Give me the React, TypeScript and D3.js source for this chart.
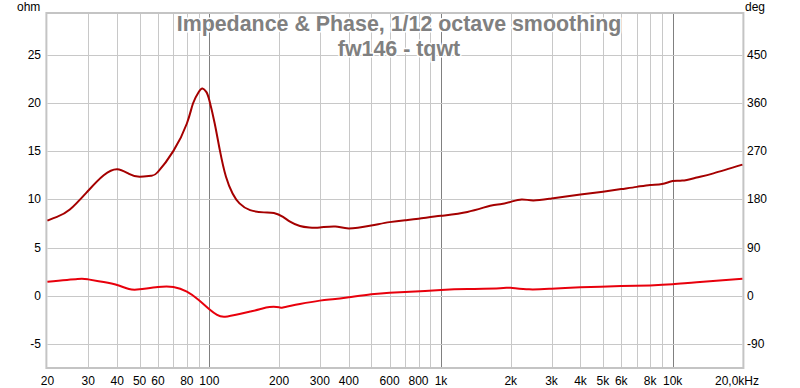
import { useEffect, useRef } from "react";
import * as d3 from "d3";

const W = 800;
const H = 388;

const titleLines = ["Impedance & Phase, 1/12 octave smoothing", "fw146 - tqwt"];

// impedance, ohm
const impFreq = [20, 22, 25, 30, 35, 40, 45, 50, 56, 60, 70, 80, 85, 90, 93.4, 97, 100, 105.5, 111, 118, 126, 135, 150, 172, 190, 208, 223, 246, 270, 300, 350, 400, 500, 600, 700, 800, 1000, 1300, 1630, 1800, 2000, 2230, 2500, 3000, 4000, 5000, 6000, 7000, 8000, 9000, 10000, 11000, 12700, 15000, 20000];
const impOhm = [7.8, 8.2, 8.95, 10.9, 12.5, 13.13, 12.65, 12.34, 12.45, 12.86, 15.03, 17.86, 19.93, 21.13, 21.48, 21.13, 20.27, 17.86, 15.1, 12.34, 10.62, 9.59, 8.89, 8.66, 8.6, 8.2, 7.7, 7.25, 7.1, 7.1, 7.2, 7.0, 7.3, 7.65, 7.85, 8.0, 8.3, 8.7, 9.35, 9.5, 9.75, 10.0, 9.9, 10.1, 10.5, 10.8, 11.07, 11.3, 11.5, 11.6, 11.9, 11.95, 12.27, 12.7, 13.6];

// phase, degrees
const phaseFreq = [20, 27, 30, 35, 40, 45, 50, 60, 70, 80, 90, 100, 108, 117, 135, 150, 165, 182, 200, 208, 246, 300, 341, 400, 500, 600, 700, 1000, 1300, 1800, 2000, 2400, 3000, 4000, 6000, 8000, 10000, 12700, 20000];
const phaseDeg = [26.6, 31.7, 31, 26, 20.5, 13, 12.4, 16.7, 16.7, 8.1, -7.4, -24.8, -35.3, -38.5, -33.5, -29, -24.8, -20.5, -21, -21.3, -15, -8.6, -6.1, -2.5, 3.1, 6.1, 7.4, 11.2, 13, 14.4, 15.5, 12.4, 13.7, 16.2, 18.5, 19.8, 21.8, 25.6, 32.2];

const ohmTicks = [-5, 0, 5, 10, 15, 20, 25];
const degTicks = [-90, 0, 90, 180, 270, 360, 450];
const xTickVals = [20, 30, 40, 50, 60, 80, 100, 200, 300, 400, 600, 800, 1000, 2000, 3000, 4000, 5000, 6000, 8000, 10000];
const xTickText = ["20", "30", "40", "50", "60", "80", "100", "200", "300", "400", "600", "800", "1k", "2k", "3k", "4k", "5k", "6k", "8k", "10k"];

const FONT = "'Liberation Sans', Arial, sans-serif";

export default function App() {
  const ref = useRef<SVGSVGElement>(null);

  useEffect(() => {
    if (!ref.current) return;
    const root = d3.select(ref.current);
    root.selectAll("*").remove();

    const left = 47.4;
    const right = 742.4;
    const top = 14;
    const bottom = 367;

    const x = d3.scaleLog().domain([20, 20000]).range([left, right]);
    const y = d3.scaleLinear().domain([-7.35, 29.2]).range([bottom, top]);
    const yDeg = d3.scaleLinear().domain([-7.35 * 18, 29.2 * 18]).range([bottom, top]);

    root.append("rect").attr("width", W).attr("height", H).attr("fill", "#fff");

    // frame with shadow
    root
      .append("rect")
      .attr("x", left - 2)
      .attr("y", top - 2)
      .attr("width", right - left + 4)
      .attr("height", bottom - top + 4)
      .attr("fill", "#c4c4c4");
    root
      .append("rect")
      .attr("x", left)
      .attr("y", top)
      .attr("width", right - left)
      .attr("height", bottom - top)
      .attr("fill", "#fff");

    const grid = root.append("g");
    // vertical grid at every 1..9 per decade
    const vLines: number[] = [];
    for (const dec of [10, 100, 1000, 10000]) {
      for (let m = 1; m <= 9; m++) {
        const f = dec * m;
        if (f > 20 && f < 20000) vLines.push(f);
      }
    }
    grid
      .selectAll("line.v")
      .data(vLines)
      .join("line")
      .attr("x1", (d) => Math.round(x(d)) + 0.5)
      .attr("x2", (d) => Math.round(x(d)) + 0.5)
      .attr("y1", top)
      .attr("y2", bottom)
      .attr("stroke", (d) => ([100, 1000, 10000].includes(d) ? "#808080" : "#c8c8c8"))
      .attr("stroke-width", 1);
    grid
      .selectAll("line.h")
      .data(ohmTicks)
      .join("line")
      .attr("x1", left)
      .attr("x2", right)
      .attr("y1", (d) => Math.round(y(d)) + 0.5)
      .attr("y2", (d) => Math.round(y(d)) + 0.5)
      .attr("stroke", "#c8c8c8")
      .attr("stroke-width", 1);

    // title with white halo
    const title = root
      .append("text")
      .attr("text-anchor", "middle")
      .attr("font-family", FONT)
      .attr("font-weight", "bold")
      .attr("font-size", 21.4)
      .attr("fill", "#808080")
      .attr("stroke", "#fff")
      .attr("stroke-width", 3)
      .attr("paint-order", "stroke");
    titleLines.forEach((t, i) => {
      title.append("tspan").attr("x", 399).attr("y", 31 + i * 25).text(t);
    });

    const line = d3
      .line<[number, number]>()
      .x((d) => x(d[0]))
      .curve(d3.curveNatural);

    root
      .append("path")
      .datum(phaseFreq.map((f, i) => [f, phaseDeg[i]] as [number, number]))
      .attr("fill", "none")
      .attr("stroke", "#e8000c")
      .attr("stroke-width", 2)
      .attr("d", line.y((d) => yDeg(d[1])));

    root
      .append("path")
      .datum(impFreq.map((f, i) => [f, impOhm[i]] as [number, number]))
      .attr("fill", "none")
      .attr("stroke", "#a50000")
      .attr("stroke-width", 2)
      .attr("d", line.y((d) => y(d[1])));

    const labels = root.append("g").attr("font-family", FONT).attr("font-size", 12).attr("fill", "#000");

    labels
      .selectAll("text.l")
      .data(ohmTicks)
      .join("text")
      .attr("x", 41)
      .attr("y", (d) => y(d) + 4)
      .attr("text-anchor", "end")
      .text((d) => String(d));
    labels
      .selectAll("text.r")
      .data(degTicks)
      .join("text")
      .attr("x", 747)
      .attr("y", (d) => yDeg(d) + 4)
      .attr("text-anchor", "start")
      .text((d) => String(d));
    labels
      .selectAll("text.b")
      .data(xTickVals)
      .join("text")
      .attr("x", (d) => x(d))
      .attr("y", 385)
      .attr("text-anchor", "middle")
      .text((_, i) => xTickText[i]);
    labels.append("text").attr("x", 715).attr("y", 385).text("20,0kHz");
    labels.append("text").attr("x", 17).attr("y", 11).text("ohm");
    labels.append("text").attr("x", 745).attr("y", 11).text("deg");
  }, []);

  return (
    <svg
      ref={ref}
      width={W}
      height={H}
      style={{ position: "absolute", left: 0, top: 0, display: "block" }}
    />
  );
}
